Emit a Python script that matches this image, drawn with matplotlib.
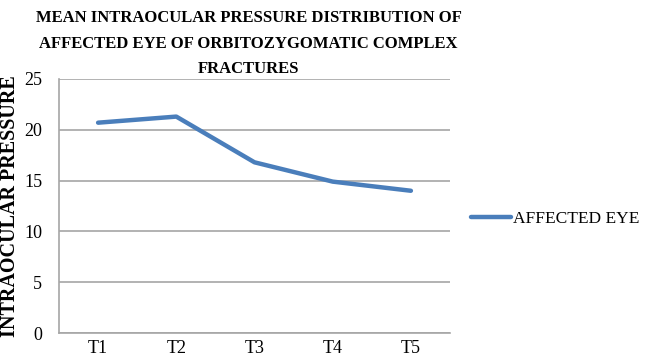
import matplotlib.pyplot as plt

# --- datos ---
categorias = ["T1", "T2", "T3", "T4", "T5"]
presion_afectado = [20.7, 21.3, 16.8, 14.9, 14.0]
y_ticks = [0, 5, 10, 15, 20, 25]

fig = plt.figure(figsize=(6.46, 3.58), dpi=100)
ax = fig.add_axes([59 / 646, 1 - 333 / 358, (450 - 59) / 646, (333 - 79) / 358])

x = range(len(categorias))
ax.plot(x, presion_afectado, color="#4a7ebb", linewidth=3.2, solid_capstyle="round",
        label="AFFECTED EYE")

ax.set_xlim(-0.5, len(categorias) - 0.5)
ax.set_ylim(0, 25)
ax.set_yticks(y_ticks)
ax.set_xticks(list(x))
ax.set_xticklabels(categorias)
ax.grid(axis="y", color="#a6a6a6", linewidth=1.2)
ax.set_axisbelow(True)
ax.tick_params(axis="y", length=0, labelsize=13, pad=12)
ax.tick_params(axis="x", length=0, labelsize=13, pad=5)
for lab in ax.get_xticklabels() + ax.get_yticklabels():
    lab.set_fontfamily("Liberation Serif")

for s in ["top", "right"]:
    ax.spines[s].set_visible(False)
for s in ["left", "bottom"]:
    ax.spines[s].set_color("#a6a6a6")
    ax.spines[s].set_linewidth(1.2)

ax.set_ylabel("INTRAOCULAR PRESSURE", fontsize=14.5, fontweight="bold",
              family="Liberation Serif")
ax.yaxis.set_label_coords(-0.1, 0.5)

fig.text(0.385, 1 - 43.5 / 358, "MEAN INTRAOCULAR PRESSURE DISTRIBUTION OF\n"
         "AFFECTED EYE OF ORBITOZYGOMATIC COMPLEX\nFRACTURES",
         ha="center", va="center", fontsize=12, fontweight="bold",
         family="Liberation Serif", linespacing=1.8)

ax.legend(loc="center left", bbox_to_anchor=(1.015, 0.45), frameon=False,
          prop={"family": "Liberation Serif", "size": 12.5},
          handlelength=2.3, handletextpad=0.1)

fig.savefig("out.png", dpi=100)
